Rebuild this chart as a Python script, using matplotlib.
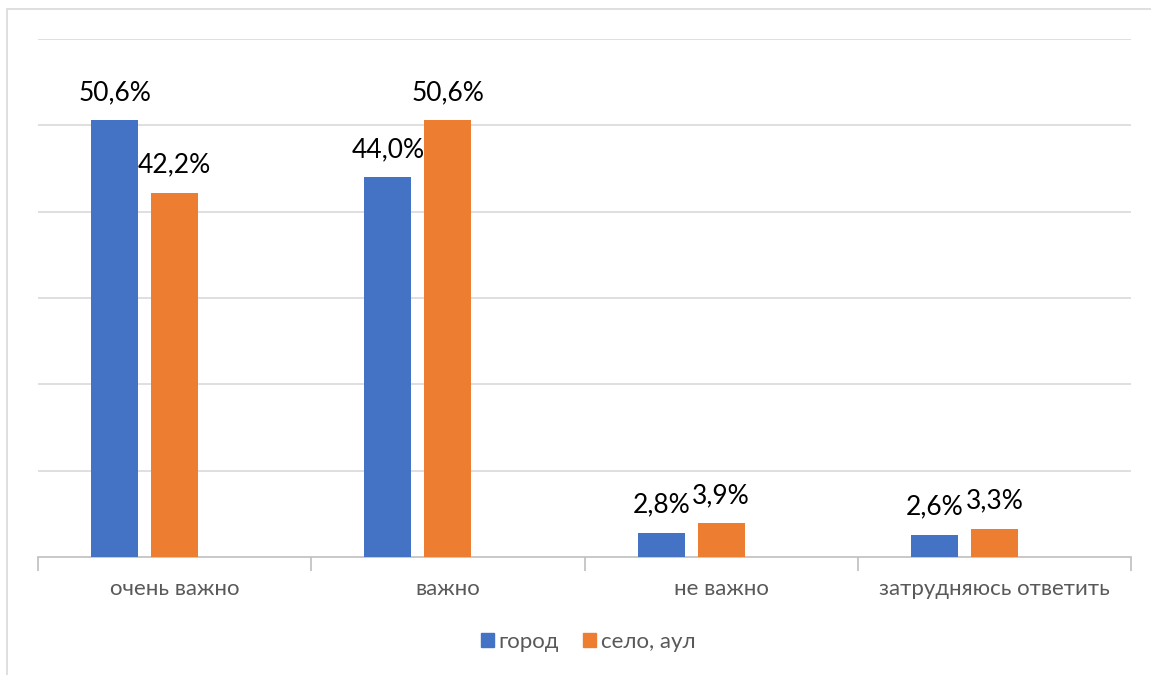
import matplotlib.pyplot as plt
from matplotlib.patches import Rectangle, Patch
import numpy as np

plt.rcParams['font.family'] = ['Lato', 'DejaVu Sans']

# data
categories = ['очень важно', 'важно', 'не важно', 'затрудняюсь ответить']
city = [50.6, 44.0, 2.8, 2.6]
village = [42.2, 50.6, 3.9, 3.3]
series_names = ['город', 'село, аул']
blue = '#4472C4'
orange = '#ED7D31'

W, H = 1151, 675
fig = plt.figure(figsize=(W / 100, H / 100), dpi=100)

# chart frame
fig.patches.append(Rectangle((7 / W, -0.1), 1.2, 1 - 9 / H + 0.1,
                             transform=fig.transFigure, fill=False,
                             edgecolor='#d9d9d9', linewidth=1.2))

ax = fig.add_axes([38 / W, 1 - 557 / H, (1131 - 38) / W, (557 - 39) / H])

x = np.arange(len(categories)) + 0.5
bw = 47 / 273.25
step = 60 / 273.25

ax.bar(x - step, city, width=bw, color=blue, zorder=3)
ax.bar(x, village, width=bw, color=orange, zorder=3)

for xi, v in zip(x - step, city):
    ax.annotate(f'{v:.1f}%'.replace('.', ','), (xi, v), xytext=(0, 11),
                textcoords='offset points', ha='center', va='bottom', fontsize=19)
for xi, v in zip(x, village):
    ax.annotate(f'{v:.1f}%'.replace('.', ','), (xi, v), xytext=(0, 11),
                textcoords='offset points', ha='center', va='bottom', fontsize=19)

ax.set_xlim(0, 4)
ax.set_ylim(0, 60)
ax.set_yticks(np.arange(10, 61, 10))
ax.yaxis.grid(True, color='#d9d9d9', linewidth=1.2, zorder=0)
ax.tick_params(axis='y', length=0, labelleft=False)

ax.set_xticks(np.arange(0, 5))
ax.set_xticklabels([])
ax.set_xticks(x, minor=True)
ax.set_xticklabels(categories, minor=True, fontsize=16, color='#595959')
ax.tick_params(axis='x', which='major', length=10, color='#bfbfbf', width=1.2)
ax.tick_params(axis='x', which='minor', length=0, pad=16)

for s in ['top', 'right', 'left']:
    ax.spines[s].set_visible(False)
ax.spines['bottom'].set_color('#bfbfbf')
ax.spines['bottom'].set_linewidth(1.2)

handles = [Patch(color=blue), Patch(color=orange)]
fig.legend(handles, series_names, loc='center', bbox_to_anchor=(588 / W, 1 - 642 / H),
           ncol=2, frameon=False, fontsize=16, handlelength=0.6, handleheight=0.6,
           handletextpad=0.2, columnspacing=1.1, labelcolor='#595959')

fig.savefig('out.png', dpi=100)
